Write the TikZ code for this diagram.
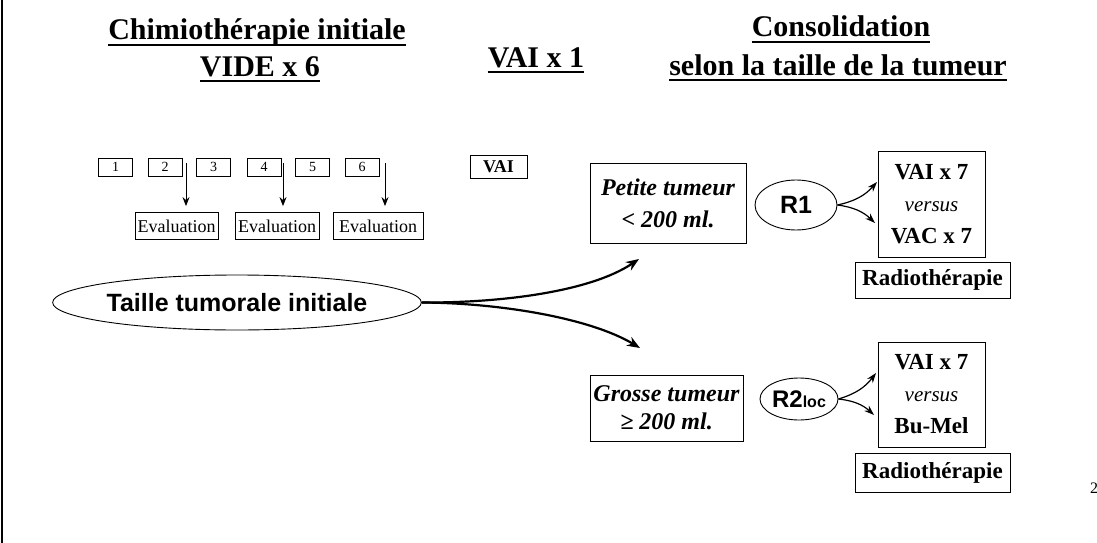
\documentclass[tikz,border=0pt]{standalone}
\usepackage{fontspec}
\setmainfont{Liberation Serif}
\newfontfamily\arialfont{Liberation Sans}
\usetikzlibrary{arrows.meta,shapes.geometric}
\begin{document}
\begin{tikzpicture}[x=1pt,y=-1pt,
  titletxt/.style={anchor=base,inner sep=0pt,font=\fontsize{30}{34}\selectfont\bfseries},
  uline/.style={line width=2pt},
  numbox/.style={draw,line width=0.8pt,inner sep=0pt,minimum width=34pt,minimum height=18pt,font=\fontsize{14}{16}\selectfont},
  evalbox/.style={draw,line width=0.8pt,inner sep=0pt,minimum height=27pt,font=\fontsize{18}{20}\selectfont},
  smallarr/.style={line width=0.9pt,-{Stealth[length=9pt,width=7pt]}},
  bigarr/.style={line width=2.2pt,-{Stealth[length=13pt,width=10pt]}},
  rarr/.style={line width=1.2pt,-{Stealth[length=10pt,width=7pt]}},
  tumbox/.style={draw,line width=0.9pt,inner sep=0pt,align=center,font=\fontsize{24}{32}\selectfont\bfseries\itshape},
  rell/.style={draw,ellipse,line width=0.9pt,inner sep=0pt},
  armbox/.style={draw,line width=0.9pt,inner sep=0pt,align=center,minimum width=107pt,font=\fontsize{23}{32}\selectfont\bfseries},
  radbox/.style={draw,line width=0.9pt,inner sep=0pt,minimum width=155pt,font=\fontsize{23}{26}\selectfont\bfseries}
]
\useasboundingbox (0,0) rectangle (1097,543);
\draw[line width=1.2pt] (2,0) -- (2,543);

% titles
\node[titletxt] (t1) at (257,40) {Chimiothérapie initiale};
\draw[uline] ([yshift=-5pt]t1.base west) -- ([yshift=-5pt]t1.base east);
\node[titletxt] (t2) at (260,76) {VIDE x 6};
\draw[uline] ([yshift=-5pt]t2.base west) -- ([yshift=-5pt]t2.base east);
\node[titletxt] (t3) at (536,67) {VAI x 1};
\draw[uline] ([yshift=-5pt]t3.base west) -- ([yshift=-5pt]t3.base east);
\node[titletxt] (t4) at (841,37) {Consolidation};
\draw[uline] ([yshift=-5pt]t4.base west) -- ([yshift=-5pt]t4.base east);
\node[titletxt] (t5) at (838,75) {selon la taille de la tumeur};
\draw[uline] ([yshift=-5pt]t5.base west) -- ([yshift=-5pt]t5.base east);

% cycle boxes
\node[numbox] (c1) at (115.5,167) {1};
\node[numbox] (c2) at (165,167) {2};
\node[numbox] (c3) at (213.5,167) {3};
\node[numbox] (c4) at (264,167) {4};
\node[numbox] (c5) at (312.5,167) {5};
\node[numbox] (c6) at (362,167) {6};
\node[draw,line width=0.9pt,inner sep=0pt,minimum width=57pt,minimum height=23pt,font=\fontsize{18}{20}\selectfont\bfseries] (vai) at (498.5,166.5) {VAI};

% evaluations
\node[evalbox,minimum width=83pt] (e1) at (176.5,226) {Evaluation};
\node[evalbox,minimum width=84pt] (e2) at (277,226) {Evaluation};
\node[evalbox,minimum width=90pt] (e3) at (378,226) {Evaluation};
\coordinate (a1) at (186,163);
\coordinate (a2) at (283,163);
\coordinate (a3) at (385,163);
\draw[smallarr,shorten >=6pt] (a1) -- (a1 |- e1.north);
\draw[smallarr,shorten >=6pt] (a2) -- (a2 |- e2.north);
\draw[smallarr,shorten >=6pt] (a3) -- (a3 |- e3.north);

% initial size
\node[draw,ellipse,line width=0.9pt,minimum width=302pt,minimum height=55pt,inner sep=0pt,font=\arialfont\bfseries\fontsize{25}{28}\selectfont] (tti) at (237,302.5) {Taille tumorale initiale};
\coordinate (up) at (639,259);
\coordinate (dn) at (640,348);
\draw[bigarr] (tti.east) .. controls (500,303) and (590,292) .. (up);
\draw[bigarr] (tti.east) .. controls (500,303) and (590,318) .. (dn);

% tumour boxes
\node[tumbox,minimum width=156pt,minimum height=80pt] (pt) at (668,203) {Petite tumeur\\< 200 ml.};
\node[tumbox,minimum width=153pt,minimum height=66pt,font=\fontsize{24}{28}\selectfont\bfseries\itshape] (gt) at (666.5,408) {Grosse tumeur\\≥ 200 ml.};

% randomisations
\node[rell,minimum width=82pt,minimum height=50pt,font=\arialfont\bfseries\fontsize{25}{28}\selectfont] (r1) at (796,205) {R1};
\node[rell,minimum width=78pt,minimum height=42pt,font=\arialfont\bfseries\fontsize{24}{27}\selectfont] (r2) at (799,399) {R2{\fontsize{16}{18}\selectfont loc}};

% arms
\node[armbox,minimum height=106pt] (b1) at (931.5,204) {VAI x 7\\{\mdseries\itshape\fontsize{21}{24}\selectfont versus}\\VAC x 7};
\node[armbox,minimum height=105pt] (b2) at (931.5,394.5) {VAI x 7\\{\mdseries\itshape\fontsize{21}{24}\selectfont versus}\\Bu-Mel};
\node[radbox,minimum height=36pt] (rad1) at (932.5,280) {Radiothérapie};
\node[radbox,minimum height=39pt] (rad2) at (932.5,472.5) {Radiothérapie};

\coordinate (r1u) at (877,182);
\coordinate (r1d) at (875,223);
\coordinate (r2u) at (876,373);
\coordinate (r2d) at (874,415);
\draw[rarr] (r1.east) to[bend right=18] (r1u);
\draw[rarr] (r1.east) to[bend left=18] (r1d);
\draw[rarr] (r2.east) to[bend right=18] (r2u);
\draw[rarr] (r2.east) to[bend left=18] (r2d);

\node[anchor=west,inner sep=0pt,font=\fontsize{16}{18}\selectfont] (pg) at (1090,488) {2};
\end{tikzpicture}
\end{document}
